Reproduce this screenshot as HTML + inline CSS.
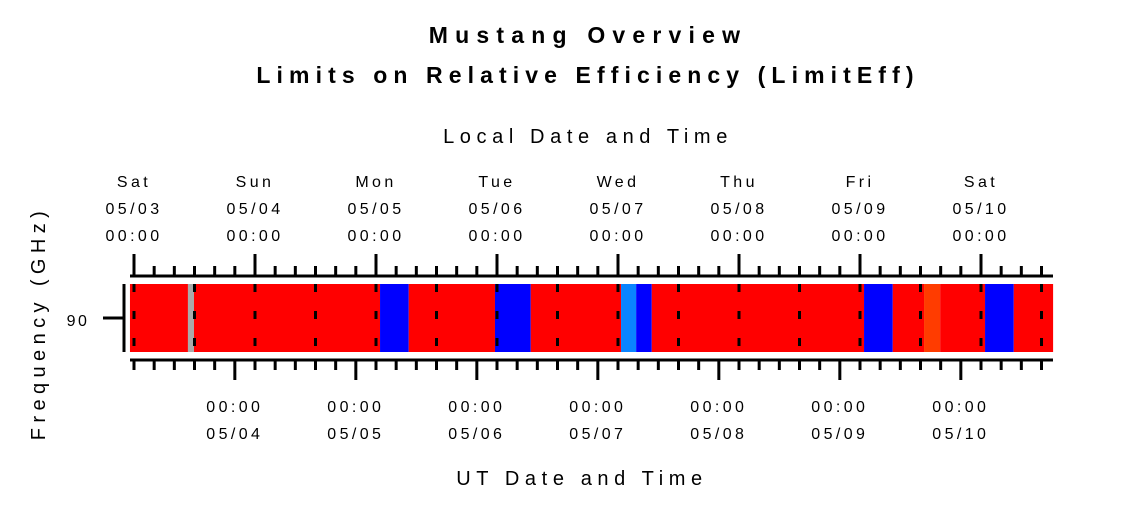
<!DOCTYPE html>
<html><head><meta charset="utf-8"><style>
body{margin:0;background:#fff}
svg text{font-family:"Liberation Sans",sans-serif;fill:#000}
</style></head><body>
<svg width="1125" height="506" viewBox="0 0 1125 506">
<g id="g"></g>
</svg>
<script>
// segment boundaries in hours from local 05/03 00:00
const segStarts = [-0.8, 10.7, 11.9, 48.8, 54.5, 71.6, 78.7, 96.6, 99.6, 102.7, 144.8, 150.5, 156.7, 159.9, 168.8, 174.5];
const segEnds   = [10.7, 11.9, 48.8, 54.5, 71.6, 78.7, 96.6, 99.6, 102.7, 144.8, 150.5, 156.7, 159.9, 168.8, 174.5, 182.3];
const segLevels = ["red","gray","red","blue","red","blue","red","lightblue","blue","red","blue","red","orange","red","blue","red"];
const localDays = ["Sat","Sun","Mon","Tue","Wed","Thu","Fri","Sat"];
const localDates = ["05/03","05/04","05/05","05/06","05/07","05/08","05/09","05/10"];
const utDates = ["05/04","05/05","05/06","05/07","05/08","05/09","05/10"];
const utOffset = -4;
const freqLabels = ["90"];

const colorMap={red:"#ff0000",blue:"#0000ff",lightblue:"#0a84ff",orange:"#ff3c00",gray:"#aaaaaa"};
const X0=134, PX=121/24, tMin=-0.8, tMax=182.3;
const x=t=>X0+t*PX;
const NS="http://www.w3.org/2000/svg";
const g=document.getElementById('g');
function mk(tag,attrs,parent){const e=document.createElementNS(NS,tag);for(const k in attrs)e.setAttribute(k,attrs[k]);(parent||g).appendChild(e);return e;}
function txt(s,xx,yy,size,extra){const e=mk('text',Object.assign({x:xx,y:yy,'font-size':size,'text-anchor':'middle'},extra||{}));e.textContent=s;return e;}

let t1=txt("Mustang Overview",588,43,23,{'font-weight':'bold','letter-spacing':'7.2'});


let t2=txt("Limits on Relative Efficiency (LimitEff)",588,83,23,{'font-weight':'bold','letter-spacing':'6.1'});


let t3=txt("Local Date and Time",588,143,20,{'letter-spacing':'5.6'});


let t4=txt("UT Date and Time",582,485,20,{'letter-spacing':'5.6'});


let t5=txt("Frequency (GHz)",0,0,20,{'letter-spacing':'5.4',transform:'translate(45,323) rotate(-90)'});



segStarts.forEach((s,i)=>{
  const r=mk('rect',{x:x(s),y:284,width:x(segEnds[i])-x(s),height:68,fill:colorMap[segLevels[i]]});
  
  
});
for(let h=0;h<=tMax;h+=12){
  const l=mk('line',{x1:x(h),x2:x(h),y1:284,y2:352,stroke:'#000','stroke-width':3,'stroke-dasharray':'8,19'});
  
  
}
let a1=mk('line',{x1:130,x2:1053,y1:276,y2:276,stroke:'#000','stroke-width':3});


let a2=mk('line',{x1:130,x2:1053,y1:360,y2:360,stroke:'#000','stroke-width':3});


let a3=mk('line',{x1:124,x2:124,y1:284,y2:352,stroke:'#000','stroke-width':3});


let a4=mk('line',{x1:103,x2:124,y1:318,y2:318,stroke:'#000','stroke-width':3});


let yl=txt(freqLabels[0],78,326,16,{'letter-spacing':'2.5'});



for(let h=0;h<=tMax;h+=4){
  const maj=h%24===0;
  const l=mk('line',{x1:x(h),x2:x(h),y1:maj?254:266,y2:276,stroke:'#000','stroke-width':3});
  
  
}
localDays.forEach((d,i)=>{
  const xx=x(i*24);
  [d,localDates[i],"00:00"].forEach((s,j)=>{
    const e=txt(s,xx,187+j*27,16,{'letter-spacing':'3.4'});
    
    
  });
});
for(let h=-24;h<=tMax;h+=4){
  if(h<tMin)continue;
  const maj=((h-utOffset)%24+24)%24===0;
  const l=mk('line',{x1:x(h),x2:x(h),y1:360,y2:maj?380:370,stroke:'#000','stroke-width':3});
  
  
}
utDates.forEach((d,i)=>{
  const xx=x((i+1)*24+utOffset);
  ["00:00",d].forEach((s,j)=>{
    const e=txt(s,xx,412+j*27,16,{'letter-spacing':'3.4'});
    
    
  });
});
</script>
</body></html>
